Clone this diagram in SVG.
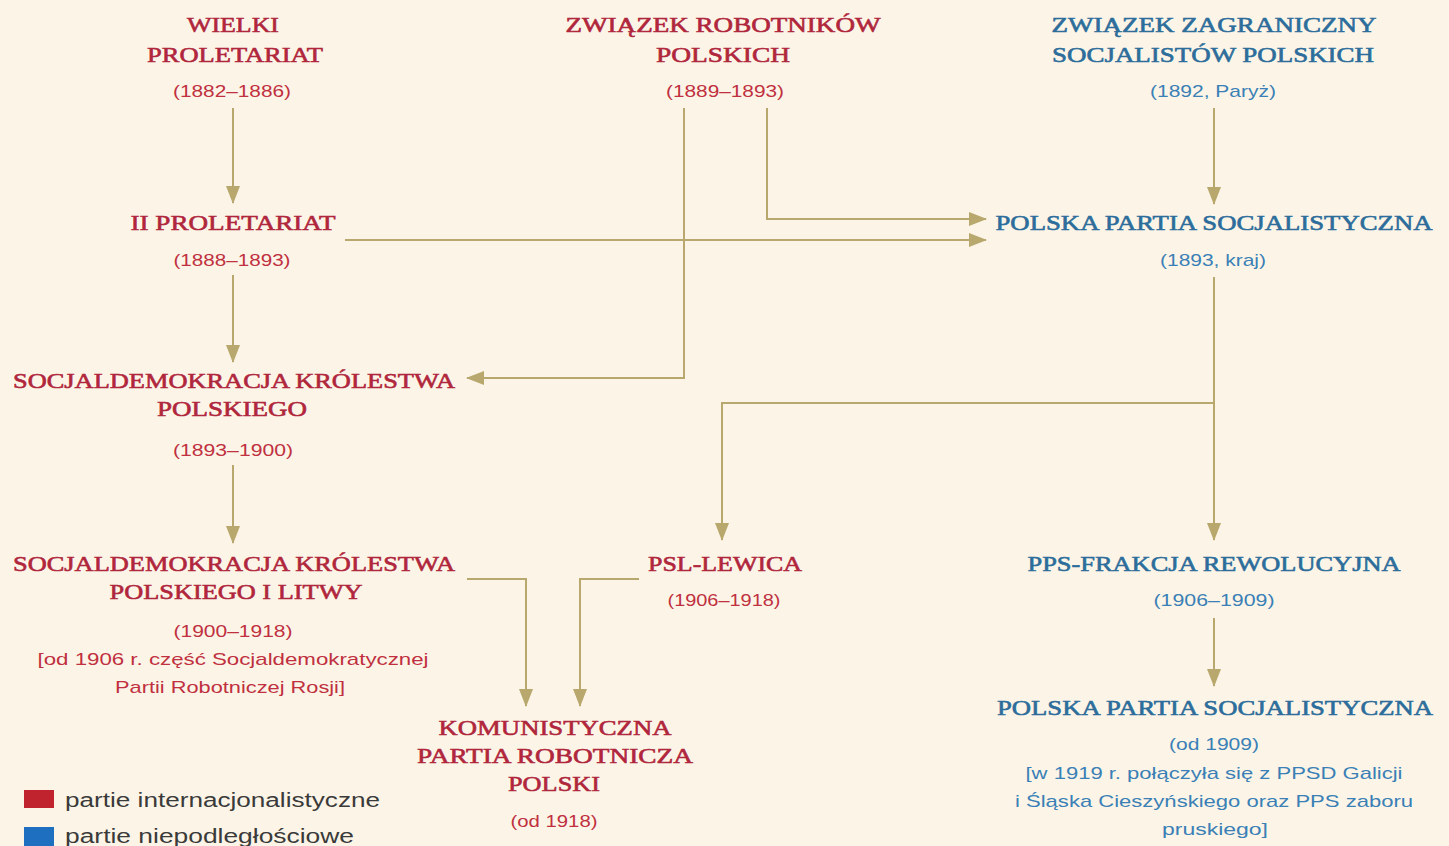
<svg xmlns="http://www.w3.org/2000/svg" width="1449" height="846" viewBox="0 0 1449 846">
<style>
.tr{font-family:"Liberation Serif",serif;font-size:22px;fill:#b0263c;stroke:#b0263c;stroke-width:0.6px;text-anchor:middle}
.tb{font-family:"Liberation Serif",serif;font-size:22px;fill:#2c6d9b;stroke:#2c6d9b;stroke-width:0.6px;text-anchor:middle}
.sr{font-family:"Liberation Sans",Arial,sans-serif;font-size:17px;fill:#c0303f;text-anchor:middle}
.sb{font-family:"Liberation Sans",Arial,sans-serif;font-size:17px;fill:#3a80b6;text-anchor:middle}
.lg{font-family:"Liberation Sans",Arial,sans-serif;font-size:20px;fill:#3a3a3a}
.c{fill:none;stroke:#b8a86e;stroke-width:2;marker-end:url(#ah)}
</style>
<defs>
<marker id="ah" markerWidth="18" markerHeight="14" refX="17" refY="7" orient="auto" markerUnits="userSpaceOnUse">
<path d="M0,0 L18,7 L0,14 z" fill="#b8a86e"/>
</marker>
</defs>
<rect width="1449" height="846" fill="#fcf5e7"/>

<g id="connectors">
<path class="c" d="M233,108 V203"/>
<path class="c" d="M233,275 V362"/>
<path class="c" d="M233,465 V543"/>
<path class="c" d="M684,108 V378 H467"/>
<path class="c" d="M767,108 V219 H986"/>
<path class="c" d="M345,240 H986"/>
<path class="c" d="M1214,108 V204"/>
<path class="c" d="M1214,277 V540"/>
<path class="c" d="M1214,403 H722 V540"/>
<path class="c" d="M1214,618 V686"/>
<path class="c" d="M467,579 H526 V706"/>
<path class="c" d="M639,579 H580 V706"/>
</g>

<g id="wielki-proletariat">
<text class="tr" x="233" y="32" textLength="92" lengthAdjust="spacingAndGlyphs">WIELKI</text>
<text class="tr" x="235" y="62" textLength="176" lengthAdjust="spacingAndGlyphs">PROLETARIAT</text>
<text class="sr" x="232" y="97" textLength="118" lengthAdjust="spacingAndGlyphs">(1882–1886)</text>
</g>

<g id="ii-proletariat">
<text class="tr" x="233" y="230" textLength="205" lengthAdjust="spacingAndGlyphs">II PROLETARIAT</text>
<text class="sr" x="232" y="266" textLength="117" lengthAdjust="spacingAndGlyphs">(1888–1893)</text>
</g>

<g id="zrp">
<text class="tr" x="723" y="32" textLength="315" lengthAdjust="spacingAndGlyphs">ZWIĄZEK ROBOTNIKÓW</text>
<text class="tr" x="723" y="62" textLength="134" lengthAdjust="spacingAndGlyphs">POLSKICH</text>
<text class="sr" x="725" y="97" textLength="118" lengthAdjust="spacingAndGlyphs">(1889–1893)</text>
</g>

<g id="zzsp">
<text class="tb" x="1214" y="32" textLength="325" lengthAdjust="spacingAndGlyphs">ZWIĄZEK ZAGRANICZNY</text>
<text class="tb" x="1213" y="62" textLength="322" lengthAdjust="spacingAndGlyphs">SOCJALISTÓW POLSKICH</text>
<text class="sb" x="1213" y="97" textLength="126" lengthAdjust="spacingAndGlyphs">(1892, Paryż)</text>
</g>

<g id="pps-1893">
<text class="tb" x="1214" y="230" textLength="437" lengthAdjust="spacingAndGlyphs">POLSKA PARTIA SOCJALISTYCZNA</text>
<text class="sb" x="1213" y="266" textLength="106" lengthAdjust="spacingAndGlyphs">(1893, kraj)</text>
</g>

<g id="sdkp">
<text class="tr" x="234" y="388" textLength="442" lengthAdjust="spacingAndGlyphs">SOCJALDEMOKRACJA KRÓLESTWA</text>
<text class="tr" x="232" y="416" textLength="150" lengthAdjust="spacingAndGlyphs">POLSKIEGO</text>
<text class="sr" x="233" y="456" textLength="120" lengthAdjust="spacingAndGlyphs">(1893–1900)</text>
</g>

<g id="sdkpil">
<text class="tr" x="234" y="571" textLength="442" lengthAdjust="spacingAndGlyphs">SOCJALDEMOKRACJA KRÓLESTWA</text>
<text class="tr" x="236" y="599" textLength="253" lengthAdjust="spacingAndGlyphs">POLSKIEGO I LITWY</text>
<text class="sr" x="233" y="637" textLength="119" lengthAdjust="spacingAndGlyphs">(1900–1918)</text>
<text class="sr" x="233" y="665" textLength="391" lengthAdjust="spacingAndGlyphs">[od 1906 r. część Socjaldemokratycznej</text>
<text class="sr" x="230" y="693" textLength="230" lengthAdjust="spacingAndGlyphs">Partii Robotniczej Rosji]</text>
</g>

<g id="psl-lewica">
<text class="tr" x="725" y="571" textLength="154" lengthAdjust="spacingAndGlyphs">PSL-LEWICA</text>
<text class="sr" x="724" y="606" textLength="113" lengthAdjust="spacingAndGlyphs">(1906–1918)</text>
</g>

<g id="kprp">
<text class="tr" x="555" y="735" textLength="233" lengthAdjust="spacingAndGlyphs">KOMUNISTYCZNA</text>
<text class="tr" x="555" y="763" textLength="276" lengthAdjust="spacingAndGlyphs">PARTIA ROBOTNICZA</text>
<text class="tr" x="554" y="791" textLength="92" lengthAdjust="spacingAndGlyphs">POLSKI</text>
<text class="sr" x="554" y="827" textLength="87" lengthAdjust="spacingAndGlyphs">(od 1918)</text>
</g>

<g id="pps-fr">
<text class="tb" x="1214" y="571" textLength="373" lengthAdjust="spacingAndGlyphs">PPS-FRAKCJA REWOLUCYJNA</text>
<text class="sb" x="1214" y="606" textLength="121" lengthAdjust="spacingAndGlyphs">(1906–1909)</text>
</g>

<g id="pps-1909">
<text class="tb" x="1215" y="715" textLength="436" lengthAdjust="spacingAndGlyphs">POLSKA PARTIA SOCJALISTYCZNA</text>
<text class="sb" x="1214" y="750" textLength="90" lengthAdjust="spacingAndGlyphs">(od 1909)</text>
<text class="sb" x="1214" y="779" textLength="377" lengthAdjust="spacingAndGlyphs">[w 1919 r. połączyła się z PPSD Galicji</text>
<text class="sb" x="1214" y="807" textLength="398" lengthAdjust="spacingAndGlyphs">i Śląska Cieszyńskiego oraz PPS zaboru</text>
<text class="sb" x="1215" y="835" textLength="106" lengthAdjust="spacingAndGlyphs">pruskiego]</text>
</g>

<g id="legend">
<rect x="24" y="790" width="30" height="18" fill="#c0222e"/>
<text class="lg" x="65" y="807" textLength="315" lengthAdjust="spacingAndGlyphs">partie internacjonalistyczne</text>
<rect x="24" y="827" width="30" height="19" fill="#1f6fc0"/>
<text class="lg" x="65" y="843" textLength="289" lengthAdjust="spacingAndGlyphs">partie niepodległościowe</text>
</g>
</svg>
